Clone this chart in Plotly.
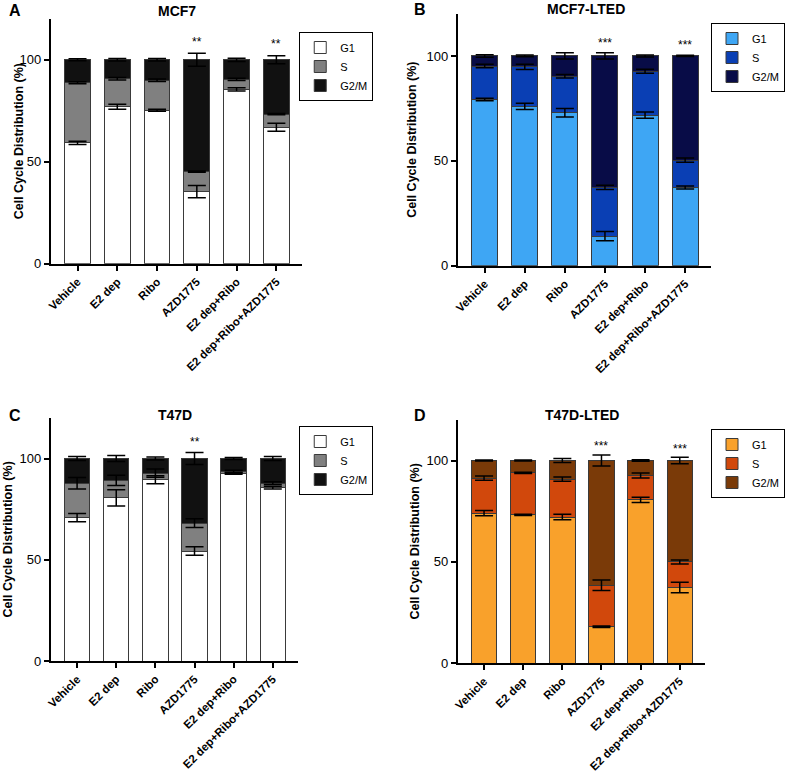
import plotly.graph_objects as go

categories = ["Vehicle", "E2 dep", "Ribo", "AZD1775", "E2 dep+Ribo", "E2 dep+Ribo+AZD1775"]
phases = ["G1", "S", "G2/M"]

# Panel A: MCF7
mcf7_g1 = [59.3, 77.0, 75.3, 35.3, 85.5, 66.9]
mcf7_s = [29.4, 13.7, 14.7, 9.8, 4.9, 6.5]
mcf7_g2m = [11.3, 9.3, 10.0, 54.9, 9.6, 26.6]
mcf7_g1_err = [0.8, 1.2, 0.5, 3.0, 0.8, 2.0]
mcf7_s_err = [0.5, 0.6, 0.6, 0.3, 0.5, 0.3]
mcf7_g2m_err = [0.5, 0.6, 0.6, 3.2, 0.8, 2.0]

# Panel B: MCF7-LTED
lted_g1 = [79.2, 76.0, 72.9, 14.1, 71.8, 37.3]
lted_s = [16.0, 18.8, 17.4, 23.2, 20.9, 13.0]
lted_g2m = [4.8, 5.2, 9.7, 62.7, 7.3, 49.7]
lted_g1_err = [0.6, 1.5, 2.0, 2.2, 1.5, 0.7]
lted_s_err = [0.8, 1.3, 0.8, 1.0, 1.0, 1.0]
lted_g2m_err = [0.6, 0.4, 1.5, 1.5, 0.5, 0.3]

# Panel C: T47D
t47d_g1 = [70.8, 80.6, 89.5, 54.3, 92.5, 85.6]
t47d_s = [17.0, 8.6, 3.3, 13.8, 1.2, 2.2]
t47d_g2m = [12.2, 10.8, 7.2, 31.9, 6.3, 12.2]
t47d_g1_err = [2.0, 4.0, 2.0, 2.1, 0.3, 0.7]
t47d_s_err = [2.8, 2.5, 2.0, 2.2, 0.5, 0.7]
t47d_g2m_err = [1.0, 1.5, 0.7, 3.0, 0.5, 1.0]

# Panel D: T47D-LTED
t47dl_g1 = [74.0, 73.2, 72.1, 17.9, 80.6, 37.3]
t47dl_s = [17.3, 20.7, 18.7, 20.5, 12.0, 12.6]
t47dl_g2m = [8.7, 6.1, 9.2, 61.6, 7.4, 50.1]
t47dl_g1_err = [1.3, 0.3, 1.3, 0.4, 1.3, 2.6]
t47dl_s_err = [1.0, 0.3, 1.0, 2.6, 1.2, 1.0]
t47dl_g2m_err = [0.3, 0.3, 1.0, 2.7, 0.4, 1.6]

# significance labels: (category, text, y)
sig_a = [("AZD1775", "**", 108.8), ("E2 dep+Ribo+AZD1775", "**", 107.5)]
sig_b = [("AZD1775", "***", 106.0), ("E2 dep+Ribo+AZD1775", "***", 105.0)]
sig_c = [("AZD1775", "**", 108.0)]
sig_d = [("AZD1775", "***", 107.4), ("E2 dep+Ribo+AZD1775", "***", 105.7)]

W, H = 785, 773
FONT = "Arial, Liberation Sans, sans-serif"
YTITLE = "Cell Cycle Distribution (%)"


def fx(px):
    return px / W


def fy(py):
    return 1 - py / H


panels = [
    dict(letter="A", title="MCF7", data=(mcf7_g1, mcf7_s, mcf7_g2m),
         err=(mcf7_g1_err, mcf7_s_err, mcf7_g2m_err),
         colors=["#ffffff", "#808080", "#111111"], sig=sig_a,
         px=(51, 303), py=(19, 263.7), leg=(300, 32), lx=7, ly=11, tx=177, ty=11, yx=19),
    dict(letter="B", title="MCF7-LTED", data=(lted_g1, lted_s, lted_g2m),
         err=(lted_g1_err, lted_s_err, lted_g2m_err),
         colors=["#3ea6f4", "#0a3fb4", "#080c47"], sig=sig_b,
         px=(459, 713), py=(14, 265.7), leg=(713, 23), lx=413, ly=9, tx=587, ty=9, yx=413),
    dict(letter="C", title="T47D", data=(t47d_g1, t47d_s, t47d_g2m),
         err=(t47d_g1_err, t47d_s_err, t47d_g2m_err),
         colors=["#ffffff", "#808080", "#111111"], sig=sig_c,
         px=(51, 299), py=(418, 661), leg=(300, 426), lx=7, ly=415, tx=175, ty=415, yx=8),
    dict(letter="D", title="T47D-LTED", data=(t47dl_g1, t47dl_s, t47dl_g2m),
         err=(t47dl_g1_err, t47dl_s_err, t47dl_g2m_err),
         colors=["#f9a12b", "#d1480c", "#7a3a08"], sig=sig_d,
         px=(459, 707), py=(420, 663), leg=(713, 429), lx=413, ly=415, tx=583, ty=415, yx=416),
]

fig = go.Figure()
annotations = []
layout = {}

for i, p in enumerate(panels):
    n = i + 1
    xa = "x" if n == 1 else f"x{n}"
    ya = "y" if n == 1 else f"y{n}"
    leg = "legend" if n == 1 else f"legend{n}"
    cum = [0.0] * len(categories)
    for k, (vals, errs) in enumerate(zip(p["data"], p["err"])):
        fig.add_trace(go.Bar(
            x=categories, y=vals, name=phases[k], xaxis=xa, yaxis=ya,
            marker=dict(color=p["colors"][k], line=dict(color="#3a3a3a", width=1)),
            width=0.65, legend=leg, showlegend=True,
        ))
    for k, (vals, errs) in enumerate(zip(p["data"], p["err"])):
        cum = [c + v for c, v in zip(cum, vals)]
        fig.add_trace(go.Scatter(
            x=categories, y=cum, mode="markers", xaxis=xa, yaxis=ya,
            marker=dict(size=1, color="rgba(0,0,0,0)"), showlegend=False,
            error_y=dict(type="data", array=errs, visible=True, color="#000000",
                         thickness=1.5, width=9),
            hoverinfo="skip",
        ))
    x0, x1 = p["px"]
    yt, yb = p["py"]
    layout[f"xaxis{'' if n == 1 else n}"] = dict(
        domain=[fx(x0), fx(x1)], anchor=ya, range=[-0.67, 5.65],
        type="category", showline=True, linecolor="#000", linewidth=2,
        ticks="outside", ticklen=5, tickwidth=1.5, tickcolor="#000",
        tickangle=-45, tickfont=dict(family=FONT, size=11.5, color="#000", weight="bold"),
        showgrid=False, zeroline=False, automargin=False,
    )
    layout[f"yaxis{'' if n == 1 else n}"] = dict(
        domain=[fy(yb), fy(yt)], anchor=xa, range=[0, 120],
        tickvals=[0, 50, 100], showline=True, linecolor="#000", linewidth=2,
        ticks="outside", ticklen=5, tickwidth=1.5, tickcolor="#000",
        tickfont=dict(family=FONT, size=13, color="#000"),
        showgrid=False, zeroline=False, automargin=False,
    )
    lgx, lgy = p["leg"]
    layout[leg] = dict(
        x=fx(lgx), y=fy(lgy), xanchor="left", yanchor="top",
        bordercolor="#000", borderwidth=1, bgcolor="#fff",
        font=dict(family=FONT, size=11, color="#000"),
        itemwidth=30, traceorder="normal",
    )
    annotations.append(dict(text=f"<b>{p['letter']}</b>", x=fx(p["lx"]), y=fy(p["ly"]),
                            xref="paper", yref="paper", xanchor="left", yanchor="middle",
                            showarrow=False, font=dict(family=FONT, size=16, color="#000")))
    annotations.append(dict(text=f"<b>{p['title']}</b>", x=fx(p["tx"]), y=fy(p["ty"]),
                            xref="paper", yref="paper", xanchor="center", yanchor="middle",
                            showarrow=False, font=dict(family=FONT, size=14, color="#000")))
    annotations.append(dict(text=f"<b>{YTITLE}</b>", x=fx(p["yx"]), y=fy((yt + yb) / 2),
                            xref="paper", yref="paper", xanchor="center", yanchor="middle",
                            textangle=-90, showarrow=False,
                            font=dict(family=FONT, size=12.5, color="#000")))
    for cat, txt, yv in p["sig"]:
        annotations.append(dict(text=txt, x=cat, y=yv, xref=xa, yref=ya,
                                showarrow=False, yanchor="middle",
                                font=dict(family=FONT, size=12, color="#000")))

fig.update_layout(
    width=W, height=H, margin=dict(l=0, r=0, t=0, b=0),
    barmode="stack", plot_bgcolor="#fff", paper_bgcolor="#fff",
    annotations=annotations, showlegend=True, **layout,
)

fig.write_html("out.html", config={"displayModeBar": False},
               post_script="document.body.style.margin='0px';")
